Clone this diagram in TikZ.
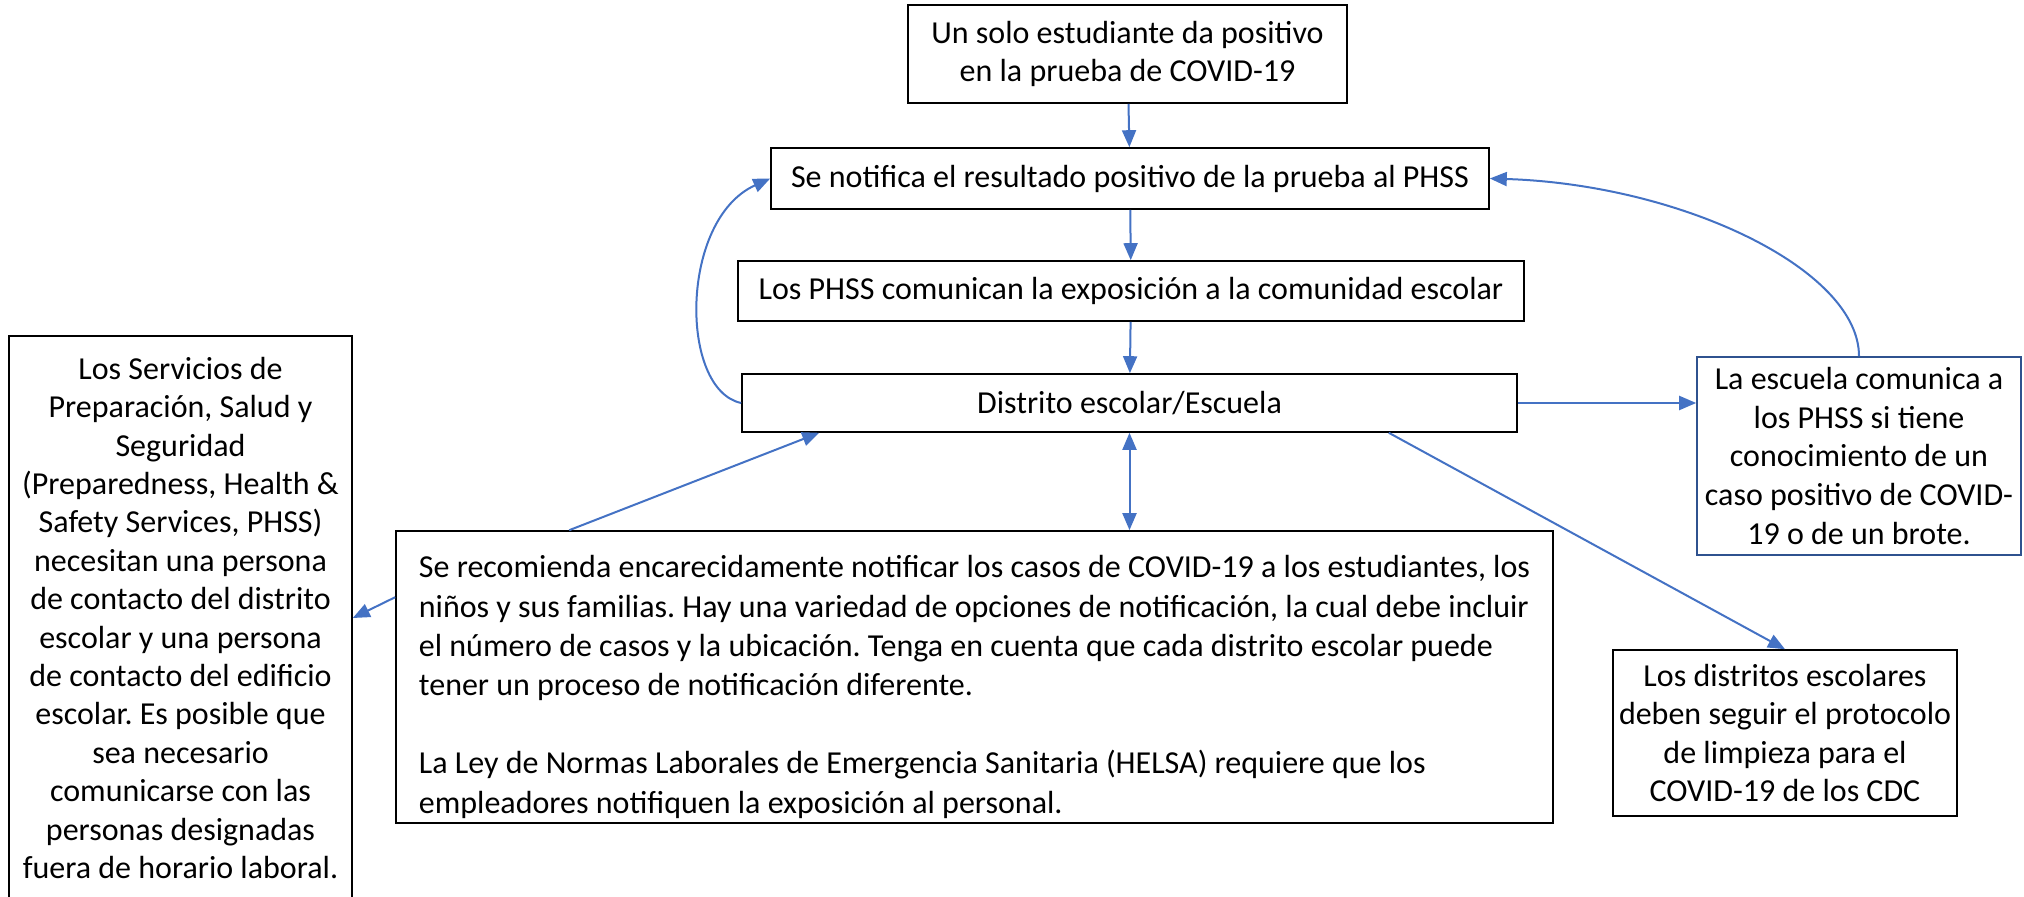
\documentclass[tikz,border=0pt]{standalone}
\usepackage{fontspec}
\setmainfont{Carlito}
\usetikzlibrary{arrows.meta}
\definecolor{arrowblue}{HTML}{4472C4}
\definecolor{boxblue}{HTML}{2F528F}
\frenchspacing

\begin{document}
\begin{tikzpicture}[x=0.5pt,y=-0.5pt,
  box/.style={draw=black, line width=0.8pt, align=center, inner sep=0pt,
    font=\fontsize{16}{19.3}\selectfont},
  arr/.style={draw=arrowblue, line width=1pt, -{Triangle[length=8.5pt,width=7pt]}},
  dblarr/.style={draw=arrowblue, line width=1pt, {Triangle[length=8.5pt,width=7pt]}-{Triangle[length=8.5pt,width=7pt]}}]

\useasboundingbox (0,0) rectangle (2024,897);

% main column
\node[box, minimum width=219.5pt, minimum height=49pt] (positive) at (1127.5,54)
  {Un solo estudiante da positivo\\en la prueba de COVID-19};
\node[box, minimum width=359pt, minimum height=30.5pt] (notify) at (1130,178.5)
  {Se notifica el resultado positivo de la prueba al PHSS};
\node[box, minimum width=393pt, minimum height=30pt] (comunican) at (1131,291)
  {Los PHSS comunican la exposición a la comunidad escolar};
\node[box, minimum width=387.5pt, minimum height=29pt] (distrito) at (1129.5,403)
  {Distrito escolar/Escuela};

% big text box
\node[box, minimum width=578.5pt, minimum height=146pt, align=left,
  font=\fontsize{16}{19.6}\selectfont] (recom) at (974.5,677)
  {\rule{0pt}{21pt}Se recomienda encarecidamente notificar los casos de COVID-19 a los estudiantes, los\\
   niños y sus familias. Hay una variedad de opciones de notificación, la cual debe incluir\\
   el número de casos y la ubicación. Tenga en cuenta que cada distrito escolar puede\\
   tener un proceso de notificación diferente.\\[19.6pt]
   La Ley de Normas Laborales de Emergencia Sanitaria (HELSA) requiere que los\\
   empleadores notifiquen la exposición al personal.};

% side boxes
\node[box, minimum width=171.5pt, minimum height=282pt,
  font=\fontsize{16}{19.2}\selectfont] (services) at (180.5,618)
  {Los Servicios de\\Preparación, Salud y\\Seguridad\\(Preparedness, Health \&\\
   Safety Services, PHSS)\\necesitan una persona\\de contacto del distrito\\
   escolar y una persona\\de contacto del edificio\\escolar. Es posible que\\
   sea necesario\\comunicarse con las\\personas designadas\\fuera de horario laboral.};
\node[box, draw=boxblue, minimum width=162pt, minimum height=99pt] (escuela) at (1859,456)
  {La escuela comunica a\\los PHSS si tiene\\conocimiento de un\\caso positivo de COVID-\\19 o de un brote.};
\node[box, minimum width=172pt, minimum height=83pt] (limpieza) at (1785,733)
  {Los distritos escolares\\deben seguir el protocolo\\de limpieza para el\\COVID-19 de los CDC};

% connectors
\draw[arr] (positive) -- (notify);
\draw[arr] (notify) -- (comunican);
\draw[arr] (comunican) -- (distrito);
\draw[dblarr] (distrito.south) -- (distrito.south |- recom.north);
\draw[arr] ([xshift=87pt]recom.north west) -- ([xshift=39pt]distrito.south west);
\draw[arr] ([yshift=-33.5pt]recom.north west) -- (services.east);
\draw[arr] (distrito.east) -- (escuela.west |- distrito.east);
\draw[arr] ([xshift=-64.5pt]distrito.south east) -- (limpieza.north);
\draw[arr] (escuela.north) .. controls +(0,-87) and +(191,6) .. (notify.east);
\draw[arr] (distrito.west) .. controls +(-62,-13) and +(-91,41) .. (notify.west);

\end{tikzpicture}
\end{document}
